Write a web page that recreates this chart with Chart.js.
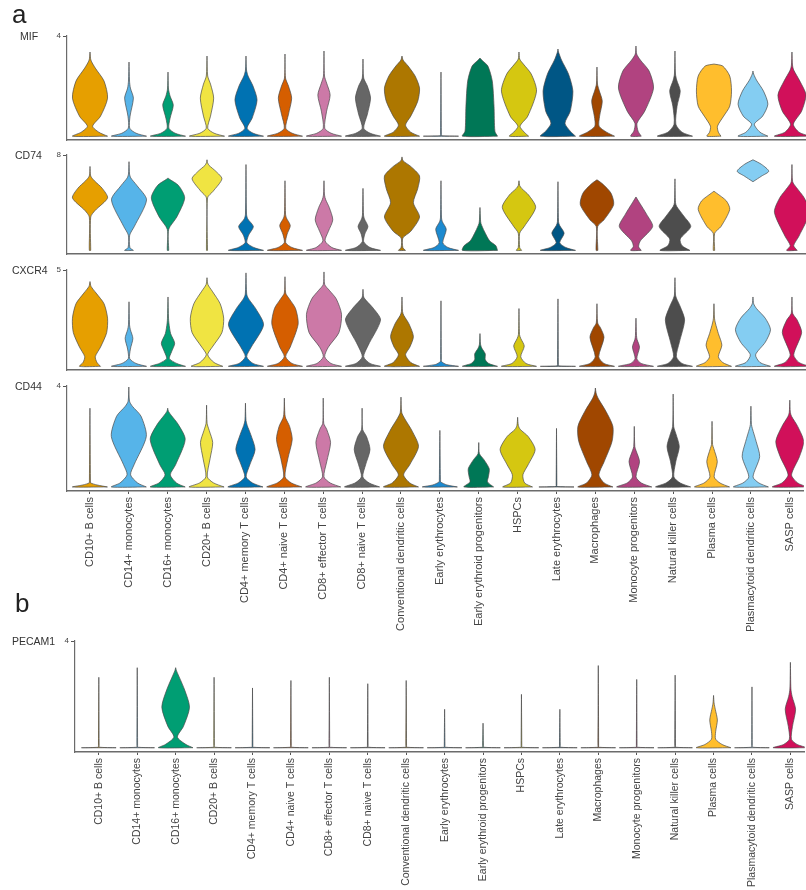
<!DOCTYPE html>
<html>
<head>
<meta charset="utf-8">
<script src="https://cdn.jsdelivr.net/npm/chart.js@4.4.1/dist/chart.umd.min.js"></script>
<style>
  html, body { margin: 0; padding: 0; background: #fff; }
  body { position: relative; width: 806px; height: 890px; overflow: hidden; font-family: "Liberation Sans", Arial, sans-serif; }
  canvas { position: absolute; left: 0; }
  .tag { position: absolute; font-size: 26px; line-height: 26px; color: #222; z-index: 2; }
  .gene { position: absolute; font-size: 10.5px; line-height: 12px; color: #333; transform: translateY(-50%); z-index: 2; }
</style>
</head>
<body>
<div class="tag" style="left:12px;top:1px">a</div>
<div class="tag" style="left:15px;top:590px">b</div>
<script>
/*
 * Stacked violin plots (Seurat style), one chart per gene.
 * Each violin is given as knots bottom -> top: [height, width, height, width, ...]
 * height = share of the panel's top tick, width = share of the full violin width.
 */

const cellTypes = [
  "CD10+ B cells", "CD14+ monocytes", "CD16+ monocytes", "CD20+ B cells",
  "CD4+ memory T cells", "CD4+ naive T cells", "CD8+ effector T cells", "CD8+ naive T cells",
  "Conventional dendritic cells", "Early erythrocytes", "Early erythroid progenitors", "HSPCs",
  "Late erythrocytes", "Macrophages", "Monocyte progenitors", "Natural killer cells",
  "Plasma cells", "Plasmacytoid dendritic cells", "SASP cells"
];

const cellColors = [
  "#E69F00", "#56B4E9", "#009E73", "#F0E442", "#0072B2", "#D55E00", "#CC79A7", "#666666",
  "#AD7700", "#1C8AD0", "#007756", "#D5C711", "#005685", "#A04700", "#B14380", "#4D4D4D",
  "#FFBE2D", "#84CDF2", "#D1105A"
];

const genes = ["MIF", "CD74", "CXCR4", "CD44", "PECAM1"];
const geneMax = [4, 8, 5, 4, 4];

const mifShapes = [
  [0,1, 0.04,0.5, 0.1,0.15, 0.2,0.6, 0.38,1, 0.55,0.8, 0.68,0.3, 0.76,0.05, 0.84,0],
  [0,1, 0.03,0.4, 0.08,0.04, 0.2,0.06, 0.38,0.25, 0.48,0.08, 0.55,0.03, 0.74,0],
  [0,1, 0.03,0.4, 0.08,0.05, 0.18,0.12, 0.31,0.3, 0.4,0.12, 0.47,0.03, 0.64,0],
  [0,1, 0.03,0.4, 0.08,0.04, 0.2,0.2, 0.38,0.38, 0.52,0.2, 0.6,0.04, 0.8,0],
  [0,1, 0.03,0.4, 0.08,0.06, 0.18,0.35, 0.36,0.63, 0.5,0.4, 0.6,0.12, 0.66,0.03, 0.8,0],
  [0,1, 0.03,0.4, 0.08,0.04, 0.22,0.2, 0.38,0.38, 0.5,0.2, 0.58,0.03, 0.82,0],
  [0,1, 0.03,0.4, 0.08,0.04, 0.25,0.15, 0.41,0.35, 0.53,0.15, 0.6,0.03, 0.85,0],
  [0,1, 0.03,0.4, 0.08,0.04, 0.22,0.25, 0.38,0.43, 0.5,0.25, 0.58,0.04, 0.77,0],
  [0,1, 0.04,0.5, 0.11,0.2, 0.2,0.5, 0.35,0.9, 0.48,1, 0.6,0.75, 0.7,0.35, 0.76,0.06, 0.8,0],
  [0,1, 0.005,0.02, 0.02,0.02, 0.64,0],
  [0,1, 0.05,0.85, 0.3,0.8, 0.55,0.7, 0.7,0.45, 0.76,0.1, 0.78,0],
  [0,0.55, 0.04,0.3, 0.1,0.06, 0.2,0.5, 0.45,1, 0.62,0.7, 0.72,0.25, 0.77,0.04, 0.84,0],
  [0,1, 0.05,0.7, 0.13,0.4, 0.25,0.7, 0.45,0.85, 0.62,0.6, 0.76,0.2, 0.84,0.03, 0.87,0],
  [0,1, 0.04,0.55, 0.1,0.12, 0.2,0.15, 0.35,0.3, 0.46,0.12, 0.52,0.03, 0.69,0],
  [0,0.3, 0.05,0.12, 0.13,0.06, 0.25,0.5, 0.48,1, 0.65,0.75, 0.76,0.25, 0.82,0.04, 0.9,0],
  [0,1, 0.04,0.4, 0.12,0.05, 0.3,0.12, 0.45,0.3, 0.56,0.1, 0.62,0.03, 0.85,0],
  [0,0.4, 0.04,0.25, 0.1,0.2, 0.2,0.55, 0.3,0.9, 0.45,1, 0.6,0.9, 0.7,0.5, 0.72,0],
  [0,0.85, 0.04,0.4, 0.12,0.08, 0.2,0.55, 0.32,0.85, 0.45,0.6, 0.56,0.2, 0.62,0.04, 0.65,0],
  [0,1, 0.04,0.4, 0.12,0.08, 0.25,0.55, 0.41,0.8, 0.55,0.45, 0.66,0.1, 0.71,0.03, 0.84,0]
];

const cd74Shapes = [
  [0,0.04, 0.35,0.04, 0.42,0.3, 0.55,1, 0.65,0.7, 0.73,0.25, 0.78,0.04, 0.88,0],
  [0,0.25, 0.03,0.05, 0.16,0.04, 0.25,0.3, 0.53,1, 0.68,0.45, 0.76,0.1, 0.8,0.03, 0.93,0],
  [0,0.04, 0.22,0.04, 0.35,0.5, 0.55,0.95, 0.68,0.6, 0.75,0.05, 0.76,0],
  [0,0.03, 0.55,0.03, 0.62,0.35, 0.75,0.85, 0.83,0.5, 0.89,0.12, 0.92,0.03, 0.95,0],
  [0,1, 0.03,0.45, 0.08,0.05, 0.16,0.15, 0.25,0.42, 0.33,0.1, 0.38,0.03, 0.9,0],
  [0,1, 0.03,0.4, 0.08,0.04, 0.17,0.12, 0.26,0.3, 0.34,0.08, 0.38,0.03, 0.73,0],
  [0,1, 0.03,0.45, 0.1,0.06, 0.2,0.25, 0.32,0.5, 0.45,0.3, 0.53,0.1, 0.58,0.03, 0.73,0],
  [0,1, 0.03,0.4, 0.09,0.04, 0.17,0.1, 0.25,0.28, 0.33,0.08, 0.37,0.03, 0.65,0],
  [0,0.2, 0.03,0.05, 0.13,0.05, 0.2,0.5, 0.35,1, 0.5,0.65, 0.65,0.9, 0.78,1, 0.88,0.5, 0.94,0.06, 0.98,0],
  [0,1, 0.03,0.4, 0.08,0.1, 0.22,0.3, 0.3,0.08, 0.34,0.03, 0.73,0],
  [0,1, 0.05,0.9, 0.1,0.55, 0.2,0.25, 0.28,0.06, 0.32,0.03, 0.45,0],
  [0,0.15, 0.03,0.04, 0.18,0.04, 0.25,0.3, 0.45,0.95, 0.58,0.55, 0.65,0.15, 0.68,0.04, 0.73,0],
  [0,1, 0.03,0.45, 0.08,0.1, 0.18,0.35, 0.26,0.1, 0.3,0.03, 0.72,0],
  [0,0.05, 0.25,0.04, 0.32,0.4, 0.48,0.95, 0.6,0.8, 0.7,0.3, 0.74,0],
  [0,0.3, 0.04,0.15, 0.1,0.25, 0.25,0.95, 0.38,0.6, 0.5,0.2, 0.56,0],
  [0,0.85, 0.05,0.4, 0.12,0.3, 0.25,0.9, 0.36,0.5, 0.46,0.1, 0.5,0.03, 0.75,0],
  [0,0.04, 0.18,0.04, 0.25,0.4, 0.43,0.9, 0.52,0.7, 0.6,0.15, 0.62,0],
  [0.72,0, 0.78,0.5, 0.83,0.9, 0.9,0.5, 0.95,0],
  [0,0.3, 0.05,0.1, 0.15,0.4, 0.4,1, 0.55,0.7, 0.66,0.25, 0.72,0.04, 0.9,0]
];

const cxcr4Shapes = [
  [0,0.6, 0.04,0.4, 0.1,0.3, 0.2,0.6, 0.35,0.95, 0.5,1, 0.65,0.8, 0.76,0.35, 0.83,0.06, 0.88,0],
  [0,1, 0.03,0.4, 0.08,0.04, 0.18,0.08, 0.29,0.22, 0.38,0.08, 0.43,0.03, 0.67,0],
  [0,1, 0.03,0.5, 0.08,0.08, 0.15,0.2, 0.24,0.38, 0.34,0.15, 0.45,0.05, 0.5,0.03, 0.72,0],
  [0,0.9, 0.04,0.4, 0.12,0.04, 0.2,0.3, 0.35,0.85, 0.5,0.95, 0.65,0.75, 0.78,0.3, 0.85,0.05, 0.92,0],
  [0,1, 0.03,0.4, 0.1,0.04, 0.2,0.3, 0.43,1, 0.6,0.55, 0.7,0.15, 0.75,0.04, 0.97,0],
  [0,1, 0.03,0.4, 0.1,0.04, 0.2,0.3, 0.44,0.75, 0.6,0.6, 0.7,0.25, 0.76,0.04, 0.93,0],
  [0,1, 0.03,0.4, 0.1,0.04, 0.2,0.25, 0.35,0.85, 0.54,1, 0.7,0.7, 0.79,0.3, 0.85,0.04, 0.98,0],
  [0,1, 0.03,0.4, 0.1,0.04, 0.22,0.3, 0.48,1, 0.6,0.6, 0.68,0.2, 0.72,0.04, 0.8,0],
  [0,1, 0.04,0.5, 0.12,0.2, 0.2,0.45, 0.31,0.65, 0.44,0.4, 0.53,0.1, 0.57,0.03, 0.72,0],
  [0,1, 0.02,0.3, 0.05,0.03, 0.07,0.02, 0.68,0],
  [0,1, 0.03,0.5, 0.07,0.3, 0.13,0.3, 0.19,0.1, 0.23,0.03, 0.34,0],
  [0,1, 0.03,0.4, 0.1,0.1, 0.21,0.3, 0.29,0.1, 0.33,0.03, 0.6,0],
  [0,1, 0.005,0.02, 0.02,0.02, 0.7,0],
  [0,1, 0.03,0.4, 0.1,0.1, 0.3,0.4, 0.4,0.2, 0.45,0.04, 0.65,0],
  [0,1, 0.03,0.3, 0.08,0.05, 0.2,0.2, 0.28,0.06, 0.32,0.03, 0.5,0],
  [0,1, 0.03,0.4, 0.1,0.08, 0.25,0.25, 0.48,0.55, 0.62,0.3, 0.7,0.1, 0.74,0.03, 0.92,0],
  [0,1, 0.04,0.5, 0.1,0.25, 0.22,0.45, 0.34,0.25, 0.45,0.08, 0.5,0.03, 0.65,0],
  [0,1, 0.04,0.4, 0.12,0.15, 0.25,0.7, 0.38,1, 0.5,0.7, 0.6,0.2, 0.65,0.04, 0.72,0],
  [0,1, 0.04,0.4, 0.12,0.1, 0.35,0.55, 0.48,0.3, 0.55,0.04, 0.72,0]
];

const cd44Shapes = [
  [0,1, 0.02,0.4, 0.04,0.04, 0.06,0.03, 0.78,0],
  [0,1, 0.04,0.5, 0.12,0.1, 0.22,0.3, 0.5,1, 0.7,0.7, 0.8,0.2, 0.85,0.04, 0.99,0],
  [0,1, 0.04,0.5, 0.12,0.15, 0.22,0.45, 0.47,1, 0.62,0.6, 0.71,0.2, 0.75,0.04, 0.78,0],
  [0,1, 0.04,0.4, 0.1,0.04, 0.28,0.2, 0.44,0.35, 0.56,0.15, 0.63,0.03, 0.81,0],
  [0,1, 0.04,0.4, 0.1,0.04, 0.22,0.25, 0.37,0.55, 0.52,0.3, 0.61,0.1, 0.66,0.03, 0.83,0],
  [0,1, 0.04,0.4, 0.1,0.04, 0.28,0.2, 0.47,0.45, 0.6,0.3, 0.68,0.08, 0.72,0.03, 0.88,0],
  [0,1, 0.04,0.4, 0.1,0.04, 0.25,0.2, 0.44,0.42, 0.57,0.2, 0.63,0.03, 0.88,0],
  [0,1, 0.04,0.4, 0.1,0.04, 0.22,0.2, 0.37,0.45, 0.5,0.25, 0.57,0.03, 0.78,0],
  [0,1, 0.04,0.5, 0.12,0.15, 0.22,0.5, 0.4,1, 0.55,0.65, 0.68,0.2, 0.74,0.04, 0.89,0],
  [0,1, 0.02,0.4, 0.05,0.04, 0.07,0.03, 0.56,0],
  [0,0.85, 0.05,0.5, 0.1,0.55, 0.18,0.6, 0.27,0.3, 0.33,0.04, 0.44,0],
  [0,0.85, 0.04,0.4, 0.12,0.3, 0.22,0.6, 0.37,1, 0.5,0.6, 0.57,0.15, 0.61,0.04, 0.69,0],
  [0,1, 0.005,0.02, 0.02,0.02, 0.58,0],
  [0,1, 0.04,0.5, 0.12,0.2, 0.25,0.5, 0.45,0.95, 0.6,1, 0.75,0.6, 0.88,0.15, 0.93,0.04, 0.98,0],
  [0,1, 0.04,0.4, 0.1,0.1, 0.25,0.3, 0.36,0.1, 0.4,0.03, 0.6,0],
  [0,1, 0.04,0.4, 0.1,0.04, 0.25,0.15, 0.4,0.35, 0.53,0.15, 0.6,0.03, 0.92,0],
  [0,1, 0.04,0.45, 0.1,0.12, 0.25,0.3, 0.38,0.1, 0.42,0.03, 0.65,0],
  [0,1, 0.04,0.45, 0.1,0.12, 0.3,0.5, 0.45,0.3, 0.58,0.08, 0.62,0.03, 0.8,0],
  [0,1, 0.04,0.45, 0.12,0.1, 0.3,0.55, 0.45,0.8, 0.6,0.45, 0.7,0.1, 0.74,0.03, 0.86,0]
];

const pecam1Shapes = [
  [0,1, 0.005,0.02, 0.02,0.02, 0.66,0],
  [0,1, 0.005,0.02, 0.02,0.02, 0.75,0],
  [0,1, 0.03,0.6, 0.1,0.1, 0.2,0.45, 0.38,0.8, 0.55,0.5, 0.72,0.05, 0.75,0],
  [0,1, 0.005,0.02, 0.02,0.02, 0.66,0],
  [0,1, 0.005,0.02, 0.02,0.02, 0.56,0],
  [0,1, 0.005,0.02, 0.02,0.02, 0.63,0],
  [0,1, 0.005,0.02, 0.02,0.02, 0.66,0],
  [0,1, 0.005,0.02, 0.02,0.02, 0.6,0],
  [0,1, 0.005,0.02, 0.02,0.02, 0.63,0],
  [0,1, 0.005,0.02, 0.02,0.02, 0.36,0],
  [0,1, 0.005,0.02, 0.02,0.02, 0.23,0],
  [0,1, 0.005,0.02, 0.02,0.02, 0.5,0],
  [0,1, 0.005,0.02, 0.02,0.02, 0.36,0],
  [0,1, 0.005,0.02, 0.02,0.02, 0.77,0],
  [0,1, 0.005,0.02, 0.02,0.02, 0.64,0],
  [0,1, 0.005,0.02, 0.02,0.02, 0.68,0],
  [0,1, 0.03,0.5, 0.08,0.12, 0.15,0.12, 0.26,0.22, 0.36,0.1, 0.42,0.03, 0.49,0],
  [0,1, 0.005,0.02, 0.02,0.02, 0.57,0],
  [0,1, 0.03,0.4, 0.08,0.06, 0.2,0.12, 0.36,0.3, 0.48,0.1, 0.55,0.03, 0.8,0]
];

const shapesByGene = [mifShapes, cd74Shapes, cxcr4Shapes, cd44Shapes, pecam1Shapes];

/* -------------------------------
   Page layout (pixels)
--------------------------------*/
const panelLayout = [
  { tickY: 36,  axisY: 145, axisX: 67, xMin: -0.59, xMax: 18.36, labels: 0,   labelSize: 11,   nameX: 20 },
  { tickY: 155, axisY: 259, axisX: 67, xMin: -0.59, xMax: 18.36, labels: 0,   labelSize: 11,   nameX: 15 },
  { tickY: 270, axisY: 375, axisX: 67, xMin: -0.59, xMax: 18.36, labels: 0,   labelSize: 11,   nameX: 12 },
  { tickY: 386, axisY: 491, axisX: 67, xMin: -0.59, xMax: 18.36, labels: 140, labelSize: 11,   nameX: 15 },
  { tickY: 641, axisY: 752, axisX: 75, xMin: -0.62, xMax: 18.37, labels: 135, labelSize: 10.5, nameX: 12 }
];

const HALF_WIDTH = 0.45;
const PAD_TOP = 8;
const PAD_BOTTOM = 2;

Chart.defaults.font.family = '"Liberation Sans", Arial, sans-serif';

document.addEventListener("DOMContentLoaded", () => {
  genes.forEach((gene, g) => renderPanel(g));
});

// right edge going up, then left edge coming down, closed
function violinPoints(i, knots, top) {
  const right = [];
  const left = [];
  for (let k = 0; k < knots.length; k += 2) {
    const y = knots[k] * top;
    const hw = knots[k + 1] * HALF_WIDTH;
    right.push({ x: i + hw, y });
    left.unshift({ x: i - hw, y });
  }
  const pts = right.concat(left);
  pts.push(pts[0]);
  return pts;
}

function renderPanel(g) {
  const p = panelLayout[g];
  const top = geneMax[g];
  const shapes = shapesByGene[g];

  const canvas = document.createElement("canvas");
  canvas.width = 806;
  canvas.height = PAD_TOP + (p.axisY - p.tickY) + p.labels + PAD_BOTTOM;
  canvas.style.top = (p.tickY - PAD_TOP) + "px";
  document.body.appendChild(canvas);

  const name = document.createElement("div");
  name.className = "gene";
  name.textContent = genes[g];
  name.style.left = p.nameX + "px";
  name.style.top = p.tickY + "px";
  document.body.appendChild(name);

  new Chart(canvas, {
    type: "line",
    data: {
      datasets: cellTypes.map((cell, i) => ({
        label: cell,
        data: violinPoints(i, shapes[i], top),
        backgroundColor: cellColors[i],
        borderColor: "#4a4a4a",
        borderWidth: 0.7,
        borderJoinStyle: "round",
        pointRadius: 0,
        fill: "shape",
        tension: 0.25
      }))
    },
    options: {
      responsive: false,
      animation: false,
      events: [],
      layout: { padding: { top: PAD_TOP, bottom: PAD_BOTTOM, left: 0, right: 0 } },
      plugins: {
        legend: { display: false },
        tooltip: { enabled: false }
      },
      scales: {
        x: {
          type: "linear",
          min: p.xMin,
          max: p.xMax,
          afterBuildTicks: s => { s.ticks = cellTypes.map((c, i) => ({ value: i })); },
          afterFit: s => { s.height = p.labels; },
          grid: { display: p.labels > 0, drawOnChartArea: false, tickLength: 3, color: "#555" },
          border: { display: true, color: "#6b6b6b", width: 1.6 },
          ticks: {
            display: p.labels > 0,
            autoSkip: false,
            minRotation: 90,
            maxRotation: 90,
            padding: 3,
            color: "#444",
            font: { size: p.labelSize },
            callback: v => cellTypes[v]
          }
        },
        y: {
          min: -0.04 * top,
          max: top,
          afterBuildTicks: s => { s.ticks = [{ value: top }]; },
          afterFit: s => { s.width = p.axisX; },
          grid: { drawOnChartArea: false, tickLength: 4, color: "#555" },
          border: { color: "#6b6b6b", width: 1.2 },
          ticks: { padding: 2, color: "#444", font: { size: 8 }, callback: v => String(v) }
        }
      }
    }
  });
}
</script>
</body>
</html>
